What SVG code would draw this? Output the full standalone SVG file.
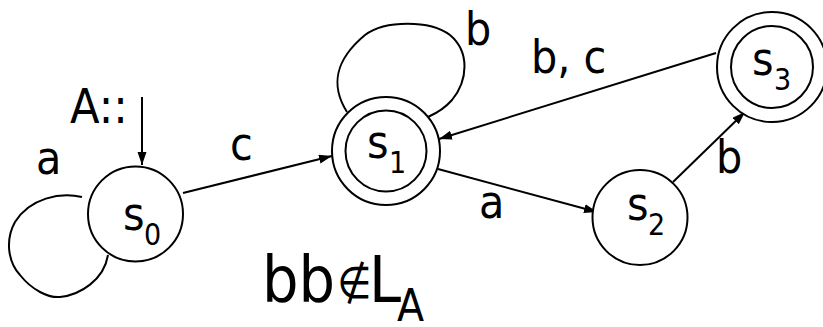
<svg xmlns="http://www.w3.org/2000/svg" width="823" height="327" viewBox="0 0 823 327">
<style>
text{font-family:"DejaVu Sans Condensed","DejaVu Sans",sans-serif;fill:#000}
.lbl{font-size:46px}
.sub{font-size:30px}
.st{fill:#fff;stroke:#000;stroke-width:2}
.e{fill:none;stroke:#000;stroke-width:2}
</style>
<defs>
<marker id="ah" markerUnits="userSpaceOnUse" markerWidth="14" markerHeight="10" refX="13" refY="4.5" orient="auto">
<path d="M0,0 L13,4.5 L0,9 z" fill="#000"/>
</marker>
</defs>
<g id="edges">
<path class="e" d="M142,97 L142,165" marker-end="url(#ah)"/>
<path class="e" d="M82,197 C60,192 30,198 15,222 C5,240 8,262 20,275 C32,290 48,298 60,297 C80,295 104,280 108,255"/>
<path class="e" d="M183,193 L332,156" marker-end="url(#ah)"/>
<path class="e" d="M347,112 C330,85 335,60 365,35 C385,20 430,20 450,35 C470,52 468,80 452,100 C445,108 437,113 428,117"/>
<path class="e" d="M716,53 L439,139" marker-end="url(#ah)"/>
<path class="e" d="M438,169 L597,212" marker-end="url(#ah)"/>
<path class="e" d="M673,182 L745,112" marker-end="url(#ah)"/>
</g>
<g id="labels">
<text x="70" y="123" style="font-size:48px">A::</text>
<text class="lbl" x="36" y="174">a</text>
<text class="lbl" x="230" y="160">c</text>
<text class="lbl" x="465" y="45">b</text>
<text class="lbl" x="531" y="73">b, c</text>
<text class="lbl" x="479" y="218">a</text>
<text class="lbl" x="716" y="173">b</text>
</g>
<g id="s0">
<circle class="st" cx="135.5" cy="214" r="47.5"/>
<text class="lbl" x="123" y="230">s</text><text class="sub" x="144" y="245">0</text>
</g>
<g id="s1">
<circle class="st" cx="386" cy="151" r="54"/>
<circle class="st" cx="386" cy="151" r="40.5"/>
<text class="lbl" x="367" y="158">s</text><text class="sub" x="389" y="173">1</text>
</g>
<g id="s2">
<circle class="st" cx="640" cy="217.5" r="47.5"/>
<text class="lbl" x="627" y="220">s</text><text class="sub" x="648" y="235">2</text>
</g>
<g id="s3">
<circle class="st" cx="772" cy="67" r="55"/>
<circle class="st" cx="772" cy="67" r="41"/>
<text class="lbl" x="752" y="75">s</text><text class="sub" x="774" y="90">3</text>
</g>
<g id="caption">
<text x="262" y="302" style="font-size:64px">bb</text>
<text x="337" y="298" style="font-size:44px">∉</text>
<text x="369" y="302" style="font-size:64px">L</text>
<text x="397" y="321" style="font-size:44px">A</text>
</g>
</svg>
